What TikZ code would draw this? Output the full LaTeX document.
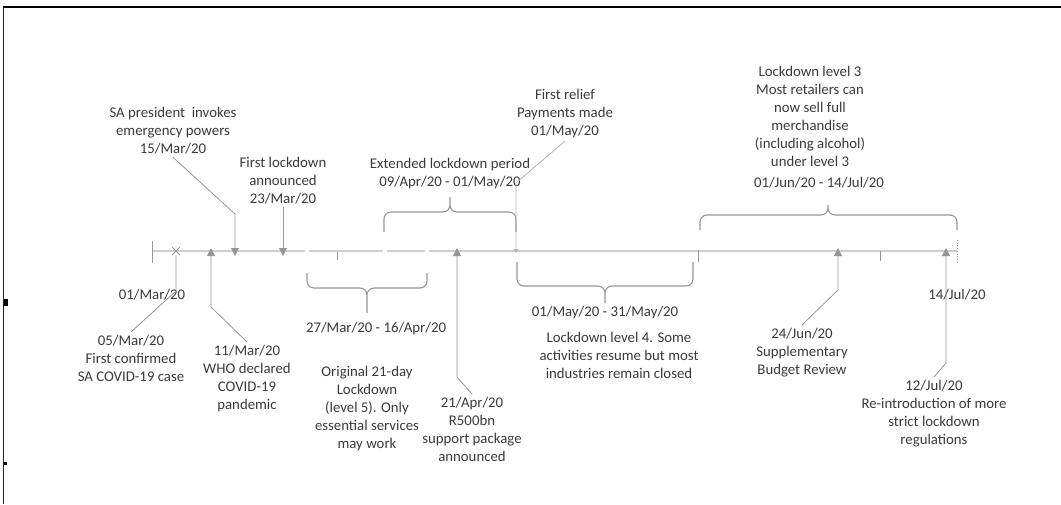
\documentclass[tikz,border=0pt]{standalone}
\usepackage{fontspec}
\setmainfont{Carlito}
\usepackage{xcolor}
\usetikzlibrary{arrows.meta,shapes.misc}

\definecolor{txtgray}{HTML}{3A3A3A}
\definecolor{lngray}{HTML}{969696}
\definecolor{axgray}{HTML}{CFCFCF}
\newcommand{\evfont}{\fontsize{14.8}{18}\selectfont}

\begin{document}
\begin{tikzpicture}[x=1pt,y=-1pt,
  lbl/.style={font=\evfont, text=txtgray, align=center, inner sep=3pt, anchor=north},
  conn/.style={draw=lngray, line width=0.8pt},
  evarrow/.style={conn, {Triangle[width=8pt,length=8pt]}-},
  smallarrow/.style={conn, draw=lngray!70, {Triangle[width=5pt,length=4pt]}-},
  axln/.style={draw=axgray, line width=1.4pt},
  axtick/.style={draw=lngray, line width=0.7pt},
  brc/.style={draw=lngray, line width=1.1pt, rounded corners=7pt},
]
\useasboundingbox (0,0) rectangle (1061,504);

%% frame
\draw[black, line width=1.6pt] (3,7) -- (1061,7);
\draw[black!85, line width=0.8pt] (3.5,7) -- (3.5,504);
\fill[black] (3.5,299) rectangle (7.5,306);
\fill[black] (3.5,462) rectangle (6.5,465);

%% axis
\coordinate (tstart) at (152,251);
\coordinate (tend) at (957,251);
\draw[axln] (tstart) -- (305,251) (309,251) -- (383,251) (387,251) -- (425,251) (429,251) -- (tend);
\draw[axtick] (152,241) -- (152,263);
\draw[axtick] (337,252) -- (337,260);
\draw[axtick] (698,250) -- (698,262);
\draw[axtick] (880,251) -- (880,261);
\draw[axtick, dotted] (957,240) -- (957,263);

%% braces
\draw[brc] (307,273) -- (307,288) -- (367,288) -- (367,313) (427,273) -- (427,288) -- (367,288) -- (367,313);
\draw[brc] (384,232) -- (384,212) -- (450,212) -- (450,197) (516,232) -- (516,212) -- (450,212) -- (450,197);
\draw[brc] (517,262) -- (517,286) -- (605,286) -- (605,303) (693,262) -- (693,286) -- (605,286) -- (605,303);
\draw[brc] (700,230) -- (700,215) -- (828,215) -- (828,205) (957,230) -- (957,215) -- (828,215) -- (828,205);

%% events on the line
\node (x05) [cross out, draw=lngray, line width=0.8pt, minimum size=7pt, inner sep=0pt] at (176,251) {};
\coordinate (up11) at (211,248);
\coordinate (dn15) at (235,256);
\coordinate (dn23) at (283,256);
\coordinate (up21) at (457,248);
\coordinate (may01) at (516,253);
\coordinate (up24) at (838,248);
\coordinate (up12) at (946,248);

%% labels
\node[lbl] (lblstart) at (152,286) {01/Mar/20};
\node[lbl] (lbl05) at (131,332) {05/Mar/20\\First confirmed\\SA COVID-19 case};
\node[lbl] (lbl11) at (247,342) {11/Mar/20\\WHO declared\\COVID-19\\pandemic};
\node[lbl] (lbl15) at (173,104) {SA president~ invokes\\emergency powers\\15/Mar/20};
\node[lbl] (lbl23) at (283,154) {First lockdown\\announced\\23/Mar/20};
\node[lbl] (lblext) at (450,155) {Extended lockdown period\\09/Apr/20 - 01/May/20};
\node[lbl] (lblrelief) at (565,86) {First relief\\Payments made\\01/May/20};
\node[lbl] (lbllvl3) at (810,63) {Lockdown level 3\\Most retailers can\\now sell full\\merchandise\\(including alcohol)\\under level 3};
\node[lbl] (lbllvl3date) at (819,174) {01/Jun/20 - 14/Jul/20};
\node[lbl] (lbl27) at (376,319) {27/Mar/20 - 16/Apr/20};
\node[lbl] (lblorig) at (367,363) {Original 21-day\\Lockdown\\(level 5). Only\\essential services\\may work};
\node[lbl] (lbl21) at (472,394) {21/Apr/20\\R500bn\\support package\\announced};
\node[lbl] (lblmay) at (605,303) {01/May/20 - 31/May/20};
\node[lbl] (lbllvl4) at (619,329) {Lockdown level 4. Some\\activities resume but most\\industries remain closed};
\node[lbl] (lbl24) at (802,325) {24/Jun/20\\Supplementary\\Budget Review};
\node[lbl] (lbljul14) at (957,286) {14/Jul/20};
\node[lbl] (lbl12) at (934,377) {12/Jul/20\\Re-introduction of more\\strict lockdown\\regulations};

%% connectors
\draw[conn] (x05) -- ++(0,40) -- (lbl05.north);
\draw[evarrow] (up11) -- ++(0,59) -- (lbl11.north);
\draw[evarrow] (dn15) -- ++(0,-42) -- (lbl15.south);
\draw[evarrow] (dn23) -- (lbl23.south);
\draw[evarrow] (up21) -- ++(0,129) -- (lbl21.north);
\draw[smallarrow] (may01) -- ++(0,-70) -- (lblrelief.south);
\draw[evarrow] (up24) -- ++(0,42) -- (lbl24.north);
\draw[evarrow] (up12) -- ++(0,115) -- (lbl12.north);

\end{tikzpicture}
\end{document}
